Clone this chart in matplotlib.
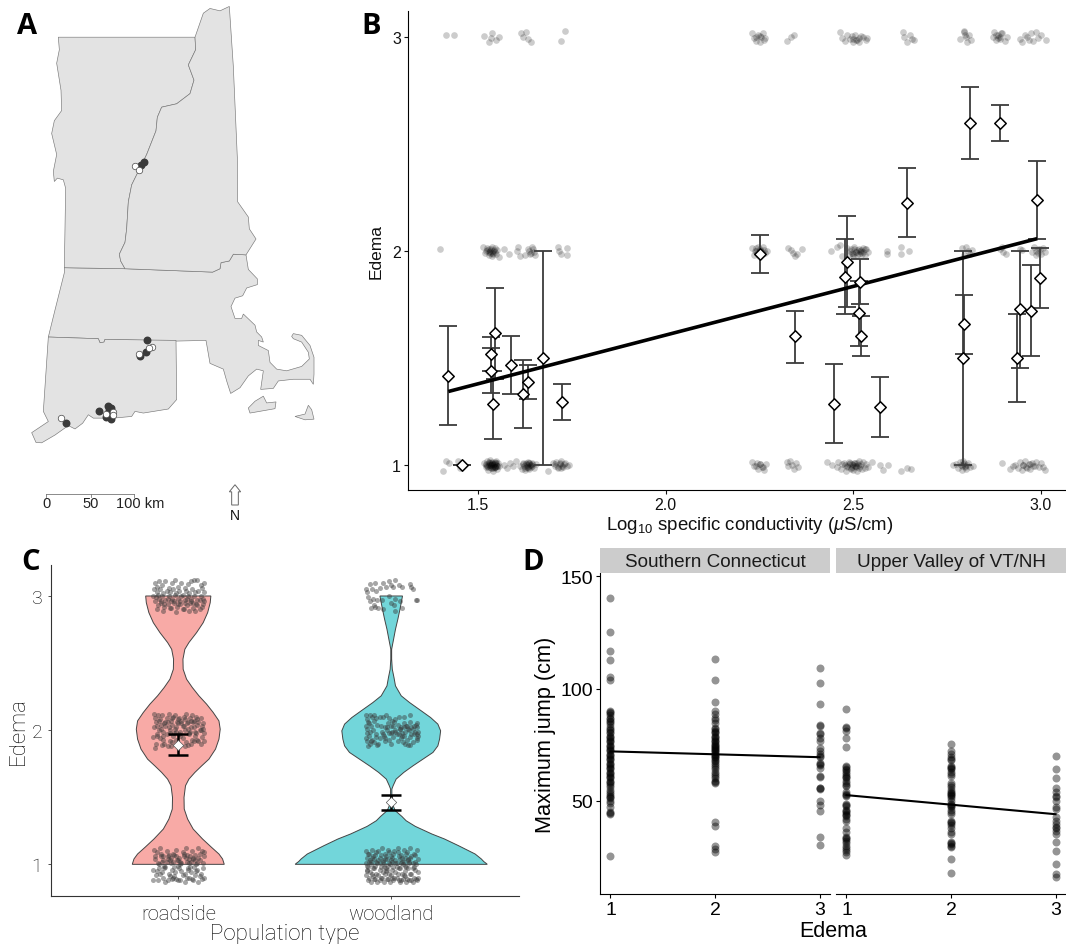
import numpy as np
import matplotlib
matplotlib.use('Agg')
import matplotlib.pyplot as plt

plt.rcParams['font.family'] = ['Liberation Sans', 'DejaVu Sans']
plt.rcParams['mathtext.fontset'] = 'custom'
plt.rcParams['mathtext.rm'] = 'Liberation Sans'
plt.rcParams['mathtext.it'] = 'Liberation Sans:italic'

W, H = 1066, 945

# panel A, outlines in map units
vermont = [(175,113),(585,113),(587,150),(565,195),(582,240),(570,280),(530,310),(485,320),(472,350),(468,390),(440,460),(415,510),(395,550),(385,600),(380,680),(375,720),(358,755),(362,775),(375,798),(193,795),(197,560),(190,535),(172,530),(163,540),(160,510),(170,460),(155,398),(163,360),(185,330),(183,270),(170,190),(178,150)]
new_hampshire = [(585,113),(610,42),(630,28),(660,35),(688,22),(700,200),(712,470),(713,600),(745,645),(748,680),(768,710),(738,757),(700,755),(688,775),(663,780),(660,798),(638,808),(375,798),(362,775),(358,755),(375,720),(380,680),(385,600),(395,550),(415,510),(440,460),(468,390),(472,350),(485,320),(530,310),(570,280),(582,240),(565,195),(587,150)]
massachusetts = [(193,795),(375,798),(638,808),(660,798),(663,780),(688,775),(700,755),(738,757),(745,800),(772,828),(772,845),(740,855),(728,878),(705,885),(693,910),(705,945),(725,945),(730,932),(765,965),(770,985),(785,1000),(790,1015),(775,1010),(775,1025),(805,1040),(810,1075),(830,1095),(860,1100),(905,1087),(928,1065),(925,1045),(905,1015),(880,1005),(875,998),(880,990),(905,995),(930,1025),(942,1060),(942,1110),(940,1140),(930,1125),(880,1125),(835,1130),(820,1152),(782,1155),(790,1100),(770,1095),(745,1115),(720,1150),(692,1167),(680,1130),(670,1095),(630,1078),(618,1010),(530,1012),(315,1007),(312,1015),(300,1017),(295,1005),(145,1000),(165,920),(193,810)]
connecticut = [(145,1000),(295,1005),(300,1017),(312,1015),(315,1007),(528,1010),(530,1185),(505,1213),(430,1225),(405,1220),(395,1235),(340,1240),(280,1240),(265,1230),(248,1255),(225,1272),(205,1262),(165,1290),(125,1313),(108,1312),(95,1283),(145,1250),(130,1220)]
vineyard = [(745,1210),(765,1190),(790,1175),(800,1195),(828,1192),(825,1212),(750,1225)]
nantucket = [(885,1235),(915,1228),(925,1202),(935,1215),(942,1243),(915,1245)]
north_arrow = [(705,1437),(722,1458),(715,1458),(715,1497),(695,1497),(695,1458),(688,1458)]
dark_x = [432,422,441,437,420,296,324,333,328,197,332,318]
dark_y = [482,490,1010,1044,1055,1219,1204,1210,1215,1253,1243,1238]
white_x = [405,418,456,447,418,182,319,340,340]
white_y = [495,507,1030,1033,1051,1241,1228,1222,1232]

# panel B, population means
b_cond = [1.421,1.457,1.546,1.535,1.535,1.539,1.588,1.619,1.634,1.673,1.723,2.25,2.344,2.449,2.484,2.479,2.518,2.515,2.521,2.57,2.644,2.791,2.796,2.937,2.944,2.974,2.996,2.99,2.811,2.891]
b_mean = [1.416,1.0,1.616,1.517,1.439,1.285,1.466,1.333,1.387,1.499,1.294,1.983,1.60,1.285,1.949,1.879,1.856,1.708,1.603,1.271,2.223,1.499,1.656,1.499,1.726,1.721,1.873,2.236,2.599,2.599]
b_hi = [1.647,1.0,1.827,1.597,1.547,1.44,1.60,1.492,1.466,2.0,1.379,2.072,1.721,1.471,2.161,2.057,1.961,1.86,1.697,1.413,2.388,2.0,1.792,1.703,2.0,1.932,2.013,2.42,2.763,2.683]
b_lo = [1.187,1.0,1.402,1.441,1.337,1.123,1.333,1.173,1.31,1.0,1.212,1.896,1.477,1.101,1.739,1.703,1.751,1.556,1.51,1.131,2.066,1.0,1.52,1.296,1.453,1.511,1.735,2.057,2.431,2.515]
b_line_x = [1.421, 2.99]
b_line_y = [1.343, 2.057]

# panel B, individuals
b1_x = [1.406,1.416,1.424,1.447,1.452,1.516,1.52,1.524,1.527,1.53,1.532,1.535,1.537,1.54,1.542,1.545,1.547,1.55,1.553,1.556,1.522,1.534,1.544,1.549,1.568,1.578,1.585,1.594,1.6,1.612,1.617,1.62,1.624,1.628,1.63,1.633,1.636,1.64,1.644,1.649,1.655,1.687,1.7,1.704,1.709,1.713,1.718,1.722,1.727,1.731,1.736,1.742,
        2.229,2.235,2.243,2.247,2.252,2.257,2.262,2.268,2.322,2.327,2.332,2.337,2.341,2.347,2.352,2.43,2.442,2.456,2.46,2.466,2.471,2.476,2.48,2.484,2.489,2.493,2.497,2.5,2.504,2.507,2.511,2.515,2.519,2.523,2.527,2.531,2.535,2.54,2.55,2.57,2.58,2.592,2.626,2.642,2.654,
        2.766,2.774,2.78,2.785,2.789,2.793,2.797,2.801,2.806,2.811,2.82,2.897,2.917,2.925,2.932,2.938,2.944,2.949,2.953,2.958,2.963,2.968,2.972,2.977,2.983,2.988,2.994,3.0,3.004,3.01,
        1.52,1.526,1.531,1.536,1.541,1.546,1.551,1.528,1.533,1.538,1.543,1.548,1.523,1.529,1.535,1.54,1.545,1.55,1.532,1.538,1.544,1.62,1.625,1.63,1.635,1.64,1.645,1.622,1.628,1.634,1.638,1.643,1.632,1.637,1.706,1.712,1.718,1.724,1.73,1.72,
        2.478,2.484,2.49,2.495,2.5,2.505,2.51,2.515,2.52,2.488,2.497,2.503,2.508,2.513,2.786,2.792,2.798,2.803,2.79,2.796,2.24,2.25,2.258,2.952,2.96,2.972,2.98]
b1_y = [0.97,1.02,1.01,1.02,0.985,1.01,0.99,1.02,0.975,1.0,1.025,0.985,1.015,0.97,1.005,0.99,1.02,0.98,1.01,0.995,1.0,1.0,0.99,1.01,1.0,0.985,1.01,0.995,1.02,0.995,0.98,1.01,0.975,1.005,0.99,1.015,0.98,1.0,1.01,0.985,1.005,0.97,1.01,0.995,1.015,0.985,1.005,1.02,0.99,1.01,0.995,1.0,
        1.015,0.995,1.01,0.98,1.005,0.99,0.975,1.005,1.015,0.995,1.02,1.0,0.98,1.01,0.99,1.015,1.0,0.99,1.015,0.98,1.005,1.01,0.97,0.995,1.015,0.98,1.005,0.975,1.01,0.99,0.97,1.02,0.995,0.98,1.015,0.985,1.005,0.99,1.015,1.0,0.975,1.0,0.97,0.985,0.98,
        1.0,1.005,0.985,1.015,0.975,1.02,0.995,0.98,1.01,0.99,0.995,1.01,0.98,0.995,1.0,0.985,1.015,0.975,1.0,1.02,0.985,1.005,0.98,1.01,0.995,1.015,0.99,1.01,0.99,0.975,
        1.005,0.99,1.01,0.985,1.0,1.015,0.995,1.01,0.99,1.005,0.985,1.0,0.995,1.015,1.0,0.99,1.01,0.995,1.0,1.01,0.99,1.005,0.985,1.0,1.01,0.99,1.005,0.995,1.01,0.985,1.0,0.995,0.99,1.01,1.005,0.99,1.01,0.995,1.005,0.985,
        1.0,0.99,1.01,0.985,1.0,0.995,1.01,0.985,1.005,1.005,0.99,1.01,0.995,1.0,1.0,1.005,0.99,1.0,0.995,1.01,0.995,1.005,0.99,1.0,0.99,1.005,0.995]
b2_x = [1.40,1.514,1.518,1.522,1.525,1.528,1.53,1.533,1.536,1.538,1.541,1.544,1.547,1.551,1.556,1.568,1.583,1.603,1.607,1.613,1.625,1.634,1.639,1.643,1.648,1.652,1.714,1.716,1.72,1.736,1.737,
        2.229,2.236,2.241,2.245,2.248,2.252,2.256,2.26,2.265,2.269,2.327,2.334,2.339,2.345,2.351,2.362,2.44,2.456,2.464,2.47,2.483,2.49,2.494,2.498,2.502,2.506,2.51,2.514,2.518,2.522,2.526,2.53,2.535,2.54,2.589,2.591,2.626,2.627,2.648,
        2.79,2.795,2.8,2.806,2.812,2.815,2.89,2.895,2.9,2.908,2.944,2.95,2.975,2.982,2.988,2.993,2.999,3.005,3.01,
        1.525,1.53,1.534,1.538,1.542,1.546,1.532,1.54,1.636,1.642,1.646,2.238,2.244,2.25,2.256,2.262,2.24,2.254,2.49,2.496,2.502,2.508,2.514,2.52,2.526,2.532,2.5,2.51,2.52,2.986,2.992,2.998]
b2_y = [2.01,2.02,1.99,2.0,2.015,1.98,2.01,1.99,2.02,1.975,2.0,2.015,1.985,2.005,1.97,2.01,1.985,2.0,2.02,1.975,1.98,2.01,1.985,2.02,1.995,1.98,2.02,2.0,1.985,2.015,1.98,
        2.015,1.98,2.0,2.02,1.975,2.005,1.985,2.02,1.99,2.0,2.015,2.005,1.99,1.975,1.985,2.01,2.0,2.02,2.025,1.975,2.015,1.985,2.01,1.975,2.02,1.995,1.98,2.01,2.0,1.985,2.015,1.98,2.01,1.995,1.985,2.0,2.02,1.985,2.0,
        2.015,1.98,2.02,2.0,1.985,2.005,2.01,2.02,1.995,1.985,2.01,2.005,1.995,2.02,1.98,2.01,1.985,2.015,1.995,
        2.005,1.995,2.01,1.99,2.005,1.995,2.0,1.985,2.0,1.99,2.01,2.0,1.99,2.01,1.995,2.005,2.015,1.985,2.0,1.99,2.01,1.995,1.985,2.005,1.995,2.01,1.985,2.005,1.995,2.0,1.99,2.01]
b3_x = [1.414,1.437,1.516,1.53,1.534,1.538,1.548,1.555,1.615,1.62,1.627,1.632,1.64,1.72,1.733,
        2.231,2.236,2.24,2.245,2.25,2.254,2.258,2.262,2.265,2.324,2.333,2.342,2.464,2.47,2.477,2.483,2.49,2.496,2.5,2.505,2.51,2.516,2.52,2.527,2.533,2.537,2.633,2.636,2.644,2.652,2.657,2.661,
        2.784,2.795,2.8,2.804,2.809,2.814,2.871,2.876,2.881,2.886,2.89,2.896,2.903,2.91,2.944,2.95,2.957,2.963,2.968,2.974,2.98,2.986,2.992,3.0,3.012,
        2.795,2.797,2.88,2.885,2.89,2.893,2.5,2.508,2.514,2.24,2.25]
b3_y = [3.01,3.01,3.005,2.975,2.995,3.015,2.985,3.0,3.015,3.0,3.02,2.99,2.975,2.98,3.025,
        3.015,2.995,2.98,3.01,2.975,3.0,3.015,2.985,2.995,2.98,3.0,3.01,3.02,2.995,2.98,3.01,2.99,3.005,2.975,3.01,2.985,2.975,3.005,3.0,2.985,2.995,3.02,3.0,2.975,3.01,2.99,2.985,
        2.99,3.025,3.0,2.975,3.01,2.985,3.0,3.02,2.985,3.01,2.99,3.015,2.98,3.0,2.99,2.975,3.01,3.0,2.985,3.015,2.98,3.02,2.995,3.01,2.985,
        3.02,3.01,3.01,2.995,3.0,3.015,2.99,2.985,2.995,3.0,3.005]
b_xticks = [1.5,2.0,2.5,3.0]

# panel C, violin outlines (half widths on the edema scale)
road_e = [1.0,1.04,1.077,1.127,1.189,1.263,1.337,1.412,1.499,1.586,1.635,1.685,1.734,1.784,1.859,1.933,2.007,2.069,2.132,2.194,2.256,2.318,2.38,2.454,2.529,2.603,2.653,2.727,2.801,2.876,2.95,3.0]
road_w = [.216,.208,.191,.156,.114,.07,.044,.028,.027,.034,.05,.078,.11,.144,.175,.191,.197,.191,.164,.133,.097,.066,.039,.023,.022,.031,.05,.086,.117,.138,.15,.153]
wood_e = [1.0,1.007,1.02,1.04,1.077,1.139,1.189,1.226,1.283,1.325,1.357,1.40,1.437,1.499,1.561,1.586,1.635,1.685,1.734,1.784,1.834,1.883,1.933,1.995,2.045,2.094,2.144,2.206,2.256,2.33,2.392,2.454,2.529,2.603,2.677,2.752,2.826,2.901,2.95,3.0]
wood_w = [.451,.446,.435,.423,.394,.316,.25,.191,.113,.07,.05,.019,.009,.003,.003,.009,.023,.059,.102,.149,.196,.219,.227,.232,.219,.185,.141,.086,.047,.02,.013,.005,.002,.002,.011,.02,.031,.041,.047,.053]
c_cats = ['roadside','woodland']
c_mean = [1.892,1.462]
c_hi = [1.971,1.519]
c_lo = [1.815,1.407]

# panel C, individuals
r1_x = [.885,.90,.915,.93,.945,.96,.975,.99,1.005,1.02,1.035,1.05,1.065,1.08,1.095,1.11,1.12,.89,.905,.92,.935,.95,.965,.98,.995,1.01,1.025,1.04,1.055,1.07,1.085,1.10,1.115,.88,.91,.925,.94,.955,.97,.985,1.0,1.015,1.03,1.045,1.06,1.075,1.09,1.105,.895,.93,.96,.99,1.02,1.05,1.08,1.11,.905,.94,.97,1.0,1.03,1.065,1.095,1.12,.88,.915,.95,.98,1.01,1.04,1.07,1.10,.90,.935,.975,1.005,1.045,1.085,1.115,
        .92,.95,.98,1.01,1.04,1.07,1.10,.93,.965,1.0,1.035,1.06,1.09,.91,.945,.975,1.015,1.05,1.08,.89,.925,.955,.99,1.025,1.055,1.095,1.12]
r1_y = [1.11,1.09,1.12,1.06,1.10,1.03,1.08,1.11,1.05,1.09,1.12,1.04,1.10,1.07,1.12,1.10,1.06,1.04,1.01,1.06,.99,1.04,1.01,.98,1.03,1.00,1.06,1.02,.98,1.04,1.00,1.03,1.01,.96,.97,.94,.98,.93,.96,.94,.99,.95,.93,.97,.94,.98,.96,.93,.92,.90,.91,.89,.92,.90,.92,.89,.88,.87,.89,.88,.87,.89,.87,.90,.88,.93,.88,.91,.88,.90,.88,.91,.95,.97,.90,.97,.96,.95,.97,
        1.08,1.06,1.07,1.02,1.07,1.05,1.08,1.03,1.05,1.03,1.05,1.02,1.01,1.0,1.02,1.02,1.01,1.01,1.03,1.06,1.02,1.07,1.06,1.08,1.06,1.05,1.09]
r2_x = [.885,.89,.895,.905,.915,.925,.935,.945,.955,.965,.975,.985,.995,1.005,1.015,1.025,1.035,1.045,1.055,1.065,1.075,1.085,1.095,1.105,1.115,.885,.90,.91,.92,.93,.94,.95,.96,.97,.98,.99,1.0,1.01,1.02,1.03,1.04,1.05,1.06,1.07,1.08,1.09,1.10,1.11,1.12,.90,.915,.93,.945,.96,.975,.99,1.005,1.02,1.035,1.05,1.065,1.08,1.095,1.11,.88,.895,.925,.95,.97,1.0,1.03,1.06,1.09,1.12,.89,.935,.965,1.01,1.045,1.075,1.105,
        .91,.94,.97,1.0,1.03,1.06,1.09,.92,.955,.985,1.015,1.045,1.075,1.105,.90,.93,.96,.99,1.025,1.055,1.085,1.115]
r2_y = [2.12,2.09,2.06,2.11,2.08,2.11,2.05,2.09,2.12,2.07,2.10,2.11,2.06,2.09,2.05,2.10,2.12,2.06,2.09,2.11,2.07,2.10,2.06,2.09,2.05,2.02,2.03,2.0,2.04,1.99,2.03,2.06,2.0,2.04,1.98,2.02,2.05,1.99,2.03,2.0,2.05,1.97,2.02,2.06,1.99,2.04,2.0,2.03,1.98,1.96,1.94,1.93,1.97,1.92,1.96,1.93,1.97,1.94,1.91,1.98,1.93,1.96,1.92,1.95,1.95,1.90,1.89,1.88,1.91,1.89,1.88,1.90,1.93,1.92,1.87,1.90,1.88,1.96,1.89,1.92,1.90,
        2.07,2.06,2.09,2.08,2.08,2.07,2.08,2.01,2.02,2.01,2.07,2.01,2.02,2.0,1.97,1.96,1.98,1.99,2.03,1.99,1.98,2.01]
r3_x = [.89,.90,.91,.925,.94,.955,.97,.985,1.0,1.015,1.03,1.045,1.06,1.075,1.09,1.105,1.12,.885,.90,.915,.93,.945,.96,.975,.99,1.005,1.02,1.035,1.05,1.065,1.08,1.095,1.11,1.12,.88,.895,.91,.925,.94,.955,.97,.985,1.0,1.015,1.03,1.045,1.06,1.075,1.09,1.105,1.115,.89,.905,.92,.935,.95,.965,.98,.995,1.01,1.025,1.04,1.055,1.07,1.085,1.10,1.12,.90,.93,.96,.99,1.02,1.05,1.08,1.11,
        .92,.95,.98,1.01,1.04,1.07,1.10,.905,.935,.965,1.0,1.03,1.06,1.09,1.115]
r3_y = [3.10,3.07,3.11,3.08,3.11,3.06,3.10,3.12,3.07,3.10,3.06,3.09,3.11,3.12,3.12,3.08,3.10,3.05,3.03,3.05,3.02,3.04,3.03,3.05,3.02,3.04,3.01,3.04,3.02,3.05,3.03,3.04,3.06,3.03,3.0,2.99,2.98,3.0,2.97,3.0,2.98,3.01,2.98,3.0,2.97,3.0,2.98,3.0,2.97,3.0,2.98,2.96,2.93,2.95,2.92,2.94,2.91,2.95,2.92,2.94,2.90,2.93,2.95,2.91,2.94,2.90,2.96,2.90,2.89,2.91,2.88,2.90,2.89,2.89,2.92,
        2.96,2.98,2.96,2.96,2.98,2.95,2.97,3.01,2.94,2.96,2.94,2.95,2.96,2.93,2.94]
w1_x = [1.88,1.895,1.91,1.925,1.94,1.955,1.97,1.985,2.0,2.015,2.03,2.045,2.06,2.075,2.09,2.105,2.12,1.885,1.90,1.915,1.93,1.945,1.96,1.975,1.99,2.005,2.02,2.035,2.05,2.065,2.08,2.095,2.11,2.125,1.88,1.89,1.905,1.92,1.935,1.95,1.965,1.98,1.995,2.01,2.025,2.04,2.055,2.07,2.085,2.10,2.115,1.885,1.90,1.915,1.93,1.945,1.96,1.975,1.99,2.005,2.02,2.035,2.05,2.065,2.08,2.095,2.11,2.125,1.88,1.895,1.91,1.925,1.94,1.955,1.97,1.985,2.0,2.015,2.03,2.045,2.06,2.075,2.09,2.105,2.12,1.89,1.905,1.92,1.935,1.95,1.965,1.98,1.995,2.01,2.025,2.04,2.055,2.07,2.085,2.10,2.115,1.885,1.915,1.945,1.975,2.005,2.035,2.065,2.095,2.125,
        1.89,1.91,1.93,1.95,1.97,1.99,2.01,2.03,2.05,2.07,2.09,2.11,1.895,1.92,1.94,1.96,1.98,2.0,2.02,2.04,2.06,2.08,2.10,1.885,1.905,1.925,1.945,1.965,1.985,2.005,2.025,2.045,2.065,2.085,2.105]
w1_y = [1.10,1.08,1.11,1.07,1.10,1.12,1.08,1.11,1.06,1.10,1.12,1.07,1.11,1.09,1.12,1.08,1.11,1.05,1.03,1.06,1.02,1.05,1.03,1.06,1.01,1.05,1.03,1.06,1.02,1.05,1.03,1.06,1.02,1.04,1.01,.98,1.0,.97,1.01,.98,1.0,.96,1.0,.98,1.01,.97,1.0,.98,1.01,.97,1.0,.96,.94,.97,.93,.96,.94,.97,.93,.96,.94,.97,.93,.95,.97,.93,.96,.94,.92,.90,.93,.89,.92,.90,.93,.89,.92,.90,.93,.88,.92,.89,.93,.90,.88,.88,.87,.89,.87,.90,.87,.89,.87,.88,.90,.87,.89,.87,.88,.87,.89,.95,.91,.88,.95,.90,.88,.91,.88,.90,
        1.08,1.05,1.09,1.07,1.04,1.09,1.08,1.09,1.05,1.08,1.05,1.07,1.02,1.04,1.03,1.02,1.04,1.03,1.01,1.04,1.02,1.04,1.01,.99,1.02,.99,1.01,.98,.99,1.02,.98,1.01,.99,1.02,.98]
w2_x = [1.88,1.885,1.89,1.90,1.91,1.92,1.93,1.945,1.96,1.975,1.99,2.005,2.02,2.035,2.06,2.09,1.88,1.885,1.895,1.905,1.92,1.935,1.95,1.97,1.985,2.0,2.015,2.03,2.045,2.06,2.075,2.09,2.105,2.12,1.885,1.90,1.915,1.93,1.955,1.98,2.0,2.02,2.04,2.05,2.065,2.08,2.095,2.11,2.12,1.88,1.895,1.91,1.93,1.945,1.965,1.99,2.01,2.025,2.045,2.06,2.075,2.09,2.105,2.12,2.125,1.885,1.90,1.92,1.94,1.97,2.0,2.03,2.055,2.08,2.10,2.12,1.89,1.905,1.935,2.065,2.09,
        1.98,2.01,2.04,2.07,2.10,2.115,1.96,1.99,2.02,2.05,2.085,2.125,1.97,2.005,2.035,2.06,2.095,2.12]
w2_y = [2.11,2.08,2.06,2.11,2.10,2.11,2.09,2.10,2.10,2.11,2.09,2.07,2.08,2.10,2.10,2.11,2.03,2.01,2.05,2.03,2.07,2.04,2.03,2.02,2.05,2.03,2.06,2.04,2.02,2.05,2.03,2.06,2.03,2.05,1.98,1.99,2.0,1.97,1.99,2.0,1.98,2.0,2.01,1.96,1.99,2.01,1.97,1.99,2.02,1.94,1.96,1.93,1.95,1.94,1.96,1.93,1.95,1.97,1.94,1.96,1.93,1.95,1.97,1.94,1.96,1.92,1.90,1.91,1.90,1.92,1.90,1.92,1.91,1.89,1.91,1.93,1.88,1.92,1.89,1.90,1.89,
        2.02,2.03,2.01,2.03,2.01,2.04,1.97,1.98,1.99,1.98,2.0,1.99,1.94,1.99,1.97,2.02,2.02,1.97]
w3_x = [1.88,1.885,1.90,1.91,1.925,1.93,1.945,1.96,1.975,1.99,2.0,2.01,2.02,2.035,2.05,2.09,2.095,2.10,2.12,1.89,1.90,1.915,1.92,1.935,1.94,1.955,1.96,1.99,2.015,2.02,2.04,2.05,2.115,1.905,1.925,2.0,2.02]
w3_y = [3.05,3.03,3.09,3.05,3.10,3.04,3.06,3.10,3.07,3.11,3.08,3.07,3.12,3.08,3.07,3.09,3.07,3.05,2.97,2.99,2.96,2.98,2.93,2.97,2.91,2.97,2.90,3.0,2.93,2.98,2.96,2.91,2.97,2.91,2.92,2.95,2.89]

# panel D
d_strips = ['Southern Connecticut','Upper Valley of VT/NH']
ct1 = [140.2,125.4,116.9,112.9,105,104,90,89.5,89,88,87,86.5,85.5,85,84,83,82,81.5,80.5,80,79,78.5,78,77,76.5,76,75,74.5,74,73,72.5,72,71,70.5,70,69,68.5,68,67,66.5,66,65,64.5,64,63,62.5,62,61,60.5,60,59,58.5,58,57,56,55,54,53,52,51.5,51,50,49,47,45,44.5,44,25.5]
ct2 = [113,104,93.9,90,88.5,87,86,84.5,82.5,82,81,80.5,80,79,78.5,78,77,76.5,76,75.5,75,74.5,74,73.5,73,72.5,72,71.5,71,70.5,70,69.5,69,68,67.5,67,66,65,64,63,62,61,60,59,58.5,58,40.4,38.9,30,28.5,27]
ct3 = [109.2,102.5,93.3,83.7,83.5,80.4,79.7,78,76.7,73.3,72.3,71,70,69.5,67,66.3,66,64.8,61,60.4,55.8,55.5,55.2,49.7,48,45.3,33.7,30.4]
uv1 = [91,83,82.3,81,78,74,65.6,65,64,63.5,63,62,61,60.5,60,59,58,57,56.7,54,53,52.5,52,48.5,48,47.5,46,45.5,45,44,43.5,43,42,41,38,36,34,33.5,33,32,31,30,29,28,27,26]
uv2 = [75.4,72,70.8,69.3,68.5,68,65.6,65,64.5,64,63,62,61,58,57,56,55,54,53.5,53,52.5,52,51,50,48.5,48,47.5,47,46,45,44,41,40.5,40,39,38,36,35,31.5,31,30.5,30,29.5,23.9,17.8]
uv3 = [69.9,64,60,55.8,53.7,52,51.5,49.7,47,46.3,42.6,41,39.6,38.5,38,36.6,35,31.5,27.4,21.8,17.4,16.2]
d_line_x = [1,3]
ct_line = [72,69.4]
uv_line = [52.5,44]
d_xticks = [1,2,3]
d_yticks = [50,100,150]


def px_axes(left, top, right, bottom):
    return fig.add_axes([left/W, 1-bottom/H, (right-left)/W, (bottom-top)/H])


def clean(ax):
    ax.spines['top'].set_visible(False)
    ax.spines['right'].set_visible(False)


fig = plt.figure(figsize=(W/100, H/100), dpi=100)

# A
axa = px_axes(0, 0, 360, 530)
axa.set_xlim(0, 1080)
axa.set_ylim(1568, 0)
axa.axis('off')
for shape in [massachusetts, connecticut, vermont, new_hampshire, vineyard, nantucket]:
    axa.fill(*zip(*shape), facecolor='#e3e3e3', edgecolor='#777777', linewidth=0.45)
axa.scatter(dark_x, dark_y, s=22, color='#3a3a3a', zorder=3)
axa.scatter(white_x, white_y, s=22, facecolor='white', edgecolor='#444444', linewidth=0.5, zorder=4)
axa.plot([137,403], [1465,1465], color='#777777', lw=0.6)
axa.plot([137,137], [1465,1472], color='#777777', lw=0.6)
axa.plot([272,272], [1465,1472], color='#777777', lw=0.6)
axa.plot([403,403], [1465,1472], color='#777777', lw=0.6)
axa.text(138, 1492, '0', fontsize=10.5, ha='center', va='center', color='#222222')
axa.text(273, 1492, '50', fontsize=10.5, ha='center', va='center', color='#222222')
axa.text(348, 1492, '100 km', fontsize=10.5, ha='left', va='center', color='#222222')
axa.fill(*zip(*north_arrow), facecolor='white', edgecolor='#666666', linewidth=0.7)
axa.text(705, 1528, 'N', fontsize=10, ha='center', va='center', color='#111111')

# B
axb = px_axes(408, 12, 1066, 491)
axb.set_xlim(1.3135, 3.0666)
axb.set_ylim(0.883, 3.12)
axb.scatter(b1_x, b1_y, s=23, color='black', alpha=0.2, linewidth=0)
axb.scatter(b2_x, b2_y, s=23, color='black', alpha=0.2, linewidth=0)
axb.scatter(b3_x, b3_y, s=23, color='black', alpha=0.2, linewidth=0)
axb.errorbar(b_cond, b_mean, yerr=[np.array(b_mean)-np.array(b_lo), np.array(b_hi)-np.array(b_mean)], fmt='none',
             ecolor='#3c3c3c', elinewidth=1.3, capsize=6.8, capthick=1.3, zorder=3)
axb.plot(b_line_x, b_line_y, color='black', lw=2.6, zorder=4, solid_capstyle='butt')
axb.scatter(b_cond, b_mean, marker='D', s=34, facecolor='white', edgecolor='black', linewidth=1.1, zorder=5)
clean(axb)
axb.set_xticks(b_xticks)
axb.set_yticks([1,2,3])
axb.tick_params(labelsize=11.5, length=3, width=0.8, pad=2, colors='#111111')
axb.set_xlabel(r'Log$_{10}$ specific conductivity ($\mathit{\mu}$S/cm)', fontsize=13.4, color='#111111')
axb.xaxis.set_label_coords((750-408)/658, -(525-491)/479, transform=axb.transAxes)
axb.xaxis.label.set_va('center')
axb.set_ylabel('Edema', fontsize=12.5, labelpad=6, color='#111111')

# C
axc = px_axes(50.7, 566, 519, 897)
axc.set_xlim(0.401, 2.6)
axc.set_ylim(0.764, 3.231)
for pos, e, w, col in [(1, road_e, road_w, '#f8aaa6'), (2, wood_e, wood_w, '#72d6da')]:
    e = np.array(e)
    w = np.array(w)
    axc.fill(np.r_[pos-w, (pos+w)[::-1]], np.r_[e, e[::-1]], facecolor=col, edgecolor='#444444', linewidth=0.7)
for xs, ys in [(r1_x, r1_y), (r2_x, r2_y), (r3_x, r3_y), (w1_x, w1_y), (w2_x, w2_y), (w3_x, w3_y)]:
    axc.scatter(xs, ys, s=13, color='#3a3a3a', alpha=0.45, linewidth=0, zorder=3)
axc.errorbar([1,2], c_mean, yerr=[np.array(c_mean)-np.array(c_lo), np.array(c_hi)-np.array(c_mean)], fmt='none',
             ecolor='black', elinewidth=1.8, capsize=7.5, capthick=1.8, zorder=4)
axc.scatter([1,2], c_mean, marker='D', s=28, facecolor='white', edgecolor='#555555', linewidth=0.5, zorder=5)
clean(axc)
axc.set_xticks([1,2])
axc.set_xticklabels(c_cats)
axc.set_yticks([1,2,3])
for sp in axc.spines.values():
    sp.set_color('#333333')
light = {'family': 'Roboto', 'weight': 'light'}
axc.tick_params(length=2, width=0.6, pad=4, color='#333333')
for lab in axc.get_xticklabels():
    lab.set(fontsize=14.5, color='black', **light)
for lab in axc.get_yticklabels():
    lab.set(fontsize=14, color='black', **light)
axc.set_xlabel('Population type', fontsize=16, labelpad=0, color='black', **light)
axc.set_ylabel('Edema', fontsize=16, labelpad=2, color='black', **light)

# D
for i, (left, right, yvals, line) in enumerate([(600, 830, [ct1, ct2, ct3], ct_line), (836, 1066, [uv1, uv2, uv3], uv_line)]):
    ax = px_axes(left, 574, right, 895.3)
    ax.set_xlim(0.9, 3.1)
    ax.set_ylim(8.3, 151.5)
    for x, vals in zip(d_xticks, yvals):
        ax.scatter([x]*len(vals), vals, s=33, color='black', alpha=0.42, linewidth=0)
    ax.plot(d_line_x, line, color='black', lw=1.5, zorder=3)
    clean(ax)
    ax.set_xticks(d_xticks)
    ax.tick_params(axis='x', labelsize=14, length=3, width=0.8, pad=2)
    if i == 0:
        ax.set_yticks(d_yticks)
        ax.tick_params(axis='y', labelsize=14, length=3, width=0.8, pad=2)
        ax.set_ylabel('Maximum jump (cm)', fontsize=15.7, labelpad=3)
    else:
        ax.spines['left'].set_visible(False)
        ax.set_yticks([])
    strip = px_axes(left, 549, right, 574)
    strip.set_xlim(0, 1)
    strip.set_ylim(0, 1)
    strip.axis('off')
    strip.fill([0,1,1,0], [0,0,1,1], color='#cccccc')
    strip.text(0.5, 0.47, d_strips[i], fontsize=13.6, ha='center', va='center', color='#1a1a1a')
fig.text(833/W, 1-932/H, 'Edema', fontsize=15.5, ha='center', va='center')

# panel letters
for letter, x, y in [('A', 27, 26), ('B', 371, 26), ('C', 31, 562), ('D', 533, 562)]:
    fig.text(x/W, 1-y/H, letter, fontsize=21, fontweight='bold', family='Open Sans', ha='center', va='center')

fig.savefig('out.png', dpi=100)
